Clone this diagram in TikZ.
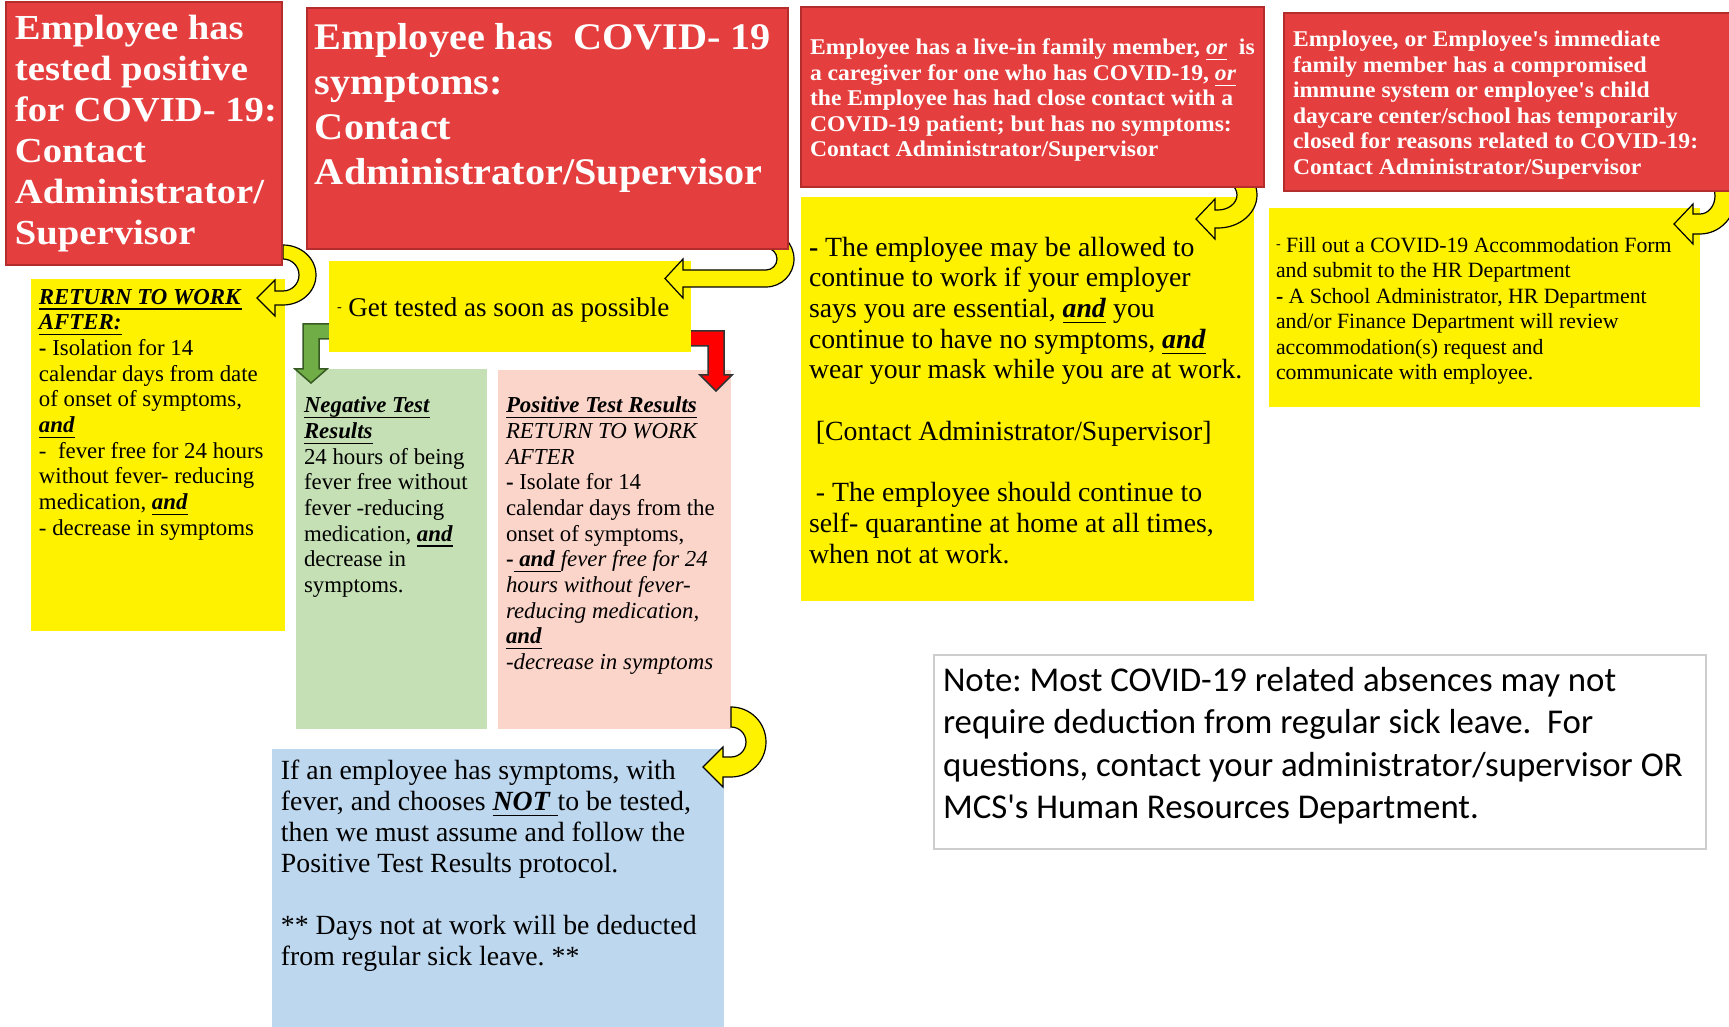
\documentclass[tikz,border=0pt]{standalone}
\usepackage{fontspec}
\setmainfont{Liberation Serif}
\newfontfamily\headwide[FakeStretch=1.10]{Liberation Serif}
\newfontfamily\headmid[FakeStretch=1.07]{Liberation Serif}
\newfontfamily\headnarrow[FakeStretch=1.05]{Liberation Serif}
\newfontfamily\notefont{Carlito}
\usetikzlibrary{calc}
\frenchspacing

\definecolor{boxred}{RGB}{229,62,62}
\definecolor{boxredline}{RGB}{180,45,45}
\definecolor{boxgreen}{RGB}{197,224,180}
\definecolor{boxpink}{RGB}{251,213,202}
\definecolor{boxblue}{RGB}{189,215,238}
\definecolor{arrgreen}{RGB}{112,173,71}
\definecolor{arrgreenline}{RGB}{55,90,35}
\definecolor{notegray}{RGB}{205,205,205}

\newcommand{\unodepth}[1]{\underline{\raisebox{0pt}[\height][0pt]{#1}}}
\newcommand{\ubi}[1]{\unodepth{\textbf{\textit{#1}}}}
% u-turn block arrow: centre, outer rx/ry, inner rx/ry, shaft, head length, barb
\newcommand{\uturn}[8]{%
  \filldraw[uarrow] (#1) ++(0,-#3) arc[start angle=-90, end angle=90, x radius=#2, y radius=#3]
    -- ++(-#6,0) -- ++(0,#8) -- ++({-#7},{-(#3-#5)/2-#8}) -- ++({#7},{-(#3-#5)/2-#8})
    -- ++(0,#8) -- ++(#6,0) arc[start angle=90, end angle=-90, x radius=#4, y radius=#5] -- cycle;
}

\begin{document}
\begin{tikzpicture}[x=0.1mm,y=-0.1mm,
  panel/.style={anchor=north west, inner sep=0pt, outer sep=0pt},
  redpanel/.style={panel, fill=boxred, draw=boxredline, line width=0.2mm},
  fillpanel/.style={panel, fill=#1},
  txt/.style={anchor=north west, inner sep=0pt, outer sep=0pt, align=left},
  redtxt/.style={txt, text=white},
  uarrow/.style={fill=yellow, draw=black, line width=0.12mm},
  garrow/.style={fill=arrgreen, draw=arrgreenline, line width=0.15mm},
  rarrow/.style={fill=red, draw=black!80, line width=0.15mm}]

\fill[white] (0,0) rectangle (1729,1027);
\useasboundingbox (0,0) rectangle (1729,1027);

% result boxes
\node[fillpanel=boxgreen, minimum width=19.1mm, minimum height=36mm] (neg) at (296,369) {};
\node[fillpanel=boxpink, minimum width=23.3mm, minimum height=35.9mm] (posres) at (498,370) {};

% bent arrows out of the test box
\filldraw[garrow] (340,324) -- (303,324) -- (303,369) -- (295,369) -- (311,383) -- (327,369)
  -- (319,369) -- (319,339) -- (340,339) -- cycle;
\filldraw[rarrow] (680,331) -- (724,331) -- (724,375) -- (732,375) -- (716,391) -- (700,375)
  -- (708,375) -- (708,346) -- (680,346) -- cycle;

\node[fillpanel=yellow, minimum width=25.4mm, minimum height=35.2mm] (ret) at (31,279) {};
\node[fillpanel=yellow, minimum width=36.2mm, minimum height=9.1mm] (test) at (329,261) {};
\node[fillpanel=boxblue, minimum width=45.2mm, minimum height=28.5mm] (notest) at (272,749) {};
\node[fillpanel=yellow, minimum width=45.3mm, minimum height=40.4mm] (essential) at (801,197) {};
\node[fillpanel=yellow, minimum width=43.1mm, minimum height=19.9mm] (accom) at (1269,208) {};
\node[panel, draw=notegray, line width=0.15mm, minimum width=77.2mm, minimum height=19.4mm] (note) at (934,655) {};

% u-turn arrows
\coordinate (u1) at (283,275);
\coordinate (u2) at (766,259);
\coordinate (u3) at (1218,195);
\coordinate (u4) at (1700,196);
\coordinate (u5) at (731,742);
\uturn{u1}{33}{30}{16}{16}{8}{18}{11}
\uturn{u2}{28}{28}{11}{11}{83}{18}{11}
\uturn{u3}{39}{33}{19}{15}{3}{19}{11}
\uturn{u4}{36}{38}{15}{18}{7}{19}{10}
\uturn{u5}{35}{35}{15}{15}{8}{20}{10}

% red header boxes
\node[redpanel, minimum width=27.6mm, minimum height=26.3mm] (pos) at (6,2) {};
\node[redpanel, minimum width=48.1mm, minimum height=24.1mm] (symp) at (307,8) {};
\node[redpanel, minimum width=46.3mm, minimum height=18mm] (contact) at (801,7) {};
\node[redpanel, minimum width=46mm, minimum height=17.8mm] (immune) at (1284,13) {};

% texts
\node[redtxt, font=\headwide\bfseries\fontsize{10}{11.67}\selectfont] (postxt) at (15,15)
  {Employee has\\tested positive\\for COVID- 19:\\Contact\\Administrator/\\Supervisor};
\node[redtxt, font=\headmid\bfseries\fontsize{10.7}{12.8}\selectfont] (symptxt) at (315,23)
  {Employee has~\ COVID- 19\\symptoms:\\Contact\\Administrator/Supervisor};
\node[redtxt, font=\headnarrow\bfseries\fontsize{6.4}{7.25}\selectfont] (contacttxt) at (810,39)
  {Employee has a live-in family member, \unodepth{\textit{or}}~ is\\
   a caregiver for one who has COVID-19, \unodepth{\textit{or}}\\
   the Employee has had close contact with a\\
   COVID-19 patient; but has no symptoms:\\
   Contact Administrator/Supervisor};
\node[redtxt, font=\headnarrow\bfseries\fontsize{6.4}{7.25}\selectfont] (immunetxt) at (1293,31)
  {Employee, or Employee's immediate\\
   family member has a compromised\\
   immune system or employee's child\\
   daycare center/school has temporarily\\
   closed for reasons related to COVID-19:\\
   Contact Administrator/Supervisor};

\node[txt, font=\fontsize{6.5}{7.3}\selectfont] (rettxt) at (39,289)
  {\ubi{RETURN TO WORK}\\
   \ubi{AFTER:}\\
   \textbf{-} Isolation for 14\\
   calendar days from date\\
   of onset of symptoms,\\
   \ubi{and}\\
   -~\ fever free for 24 hours\\
   without fever- reducing\\
   medication, \ubi{and}\\
   - decrease in symptoms};
\node[txt, font=\fontsize{7.7}{9}\selectfont] (testtxt) at (337,298)
  {\raisebox{0.4ex}{\fontsize{4}{4}\selectfont -} Get tested as soon as possible};
\node[txt, font=\fontsize{6.5}{7.3}\selectfont] (negtxt) at (304,397)
  {\ubi{Negative Test}\\
   \ubi{Results}\\
   24 hours of being\\
   fever free without\\
   fever -reducing\\
   medication, \ubi{and}\\
   decrease in\\
   symptoms.};
\node[txt, font=\fontsize{6.5}{7.3}\selectfont] (posrestxt) at (506,397)
  {\ubi{Positive Test Results}\\
   \textit{RETURN TO WORK}\\
   \textit{AFTER}\\
   \textbf{-} Isolate for 14\\
   calendar days from the\\
   onset of symptoms,\\
   \textbf{-}\ubi{ and }\textit{fever free for 24}\\
   \textit{hours without fever-}\\
   \textit{reducing medication,}\\
   \ubi{and}\\
   \textit{-decrease in symptoms}};
\node[txt, font=\fontsize{7.9}{8.82}\selectfont] (notesttxt) at (281,760)
  {If an employee has symptoms, with\\
   fever, and chooses \ubi{NOT }to be tested,\\
   then we must assume and follow the\\
   Positive Test Results protocol.\\[8.82pt]
   ** Days not at work will be deducted\\
   from regular sick leave. **};
\node[txt, font=\fontsize{7.9}{8.73}\selectfont] (essentialtxt) at (809,237)
  {\textbf{-} The employee may be allowed to\\
   continue to work if your employer\\
   says you are essential, \ubi{and} you\\
   continue to have no symptoms, \ubi{and}\\
   wear your mask while you are at work.\\[8.73pt]
   \ [Contact Administrator/Supervisor]\\[8.73pt]
   \ - The employee should continue to\\
   self- quarantine at home at all times,\\
   when not at work.};
\node[txt, font=\fontsize{6.2}{7.25}\selectfont] (accomtxt) at (1276,237)
  {\raisebox{0.4ex}{\fontsize{4}{4}\selectfont -} Fill out a COVID-19 Accommodation Form\\
   and submit to the HR Department\\
   \textbf{-} A School Administrator, HR Department\\
   and/or Finance Department will review\\
   accommodation(s) request and\\
   communicate with employee.};
\node[txt, font=\notefont\fontsize{9.9}{12.1}\selectfont] (notetxt) at (943,667)
  {Note: Most COVID-19 related absences may not\\
   require deduction from regular sick leave.~ For\\
   questions, contact your administrator/supervisor OR\\
   MCS's Human Resources Department.};
\end{tikzpicture}
\end{document}
